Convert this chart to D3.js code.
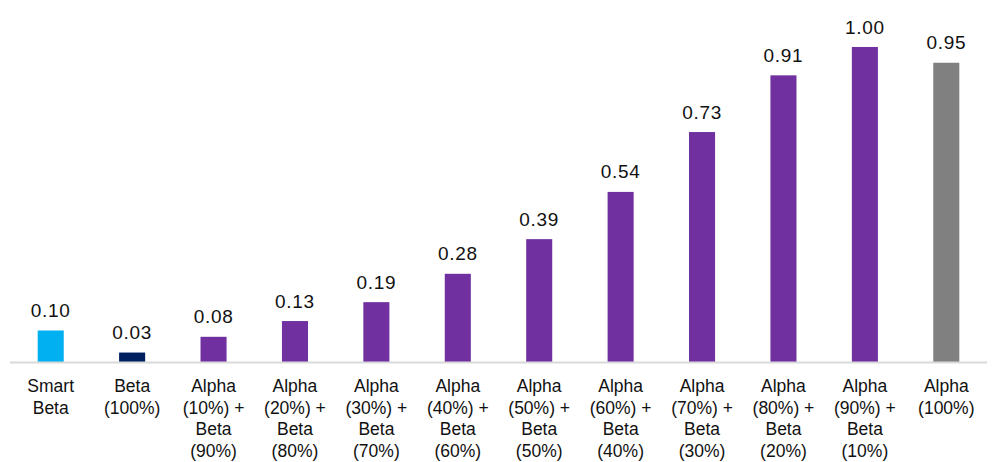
<!DOCTYPE html>
<html>
<head>
<meta charset="utf-8">
<script src="https://cdn.jsdelivr.net/npm/d3@7"></script>
<style>
  body { margin: 0; background: #fff; }
  text { font-family: "Liberation Sans", Arial, sans-serif; fill: #111; }
</style>
</head>
<body>
<div id="chart"></div>
<script>
// categories (each entry split into label lines)
const categories = [
  ["Smart", "Beta"],
  ["Beta", "(100%)"],
  ["Alpha", "(10%) +", "Beta", "(90%)"],
  ["Alpha", "(20%) +", "Beta", "(80%)"],
  ["Alpha", "(30%) +", "Beta", "(70%)"],
  ["Alpha", "(40%) +", "Beta", "(60%)"],
  ["Alpha", "(50%) +", "Beta", "(50%)"],
  ["Alpha", "(60%) +", "Beta", "(40%)"],
  ["Alpha", "(70%) +", "Beta", "(30%)"],
  ["Alpha", "(80%) +", "Beta", "(20%)"],
  ["Alpha", "(90%) +", "Beta", "(10%)"],
  ["Alpha", "(100%)"]
];
const values = [0.10, 0.03, 0.08, 0.13, 0.19, 0.28, 0.39, 0.54, 0.73, 0.91, 1.00, 0.95];
const colors = ["#00b0f0", "#002060", "#7030a0", "#7030a0", "#7030a0", "#7030a0",
                "#7030a0", "#7030a0", "#7030a0", "#7030a0", "#7030a0", "#808080"];

const width = 1000;
const height = 462;
const baseY = 362;

const svg = d3.select("#chart")
    .append("svg")
    .attr("width", width)
    .attr("height", height);

const x = d3.scaleBand()
    .domain(d3.range(categories.length))
    .range([10, 987])
    .paddingInner(0.68)
    .paddingOuter(0.34);

const y = d3.scaleLinear()
    .domain([0, 1])
    .range([baseY, 47]);

// bars
svg.selectAll("rect.bar")
    .data(values)
    .enter()
    .append("rect")
    .attr("class", "bar")
    .attr("x", (d, i) => x(i))
    .attr("y", d => y(d))
    .attr("width", x.bandwidth())
    .attr("height", d => baseY - y(d))
    .attr("fill", (d, i) => colors[i]);

// axis line
svg.append("line")
    .attr("x1", 10)
    .attr("x2", 987)
    .attr("y1", baseY + 0.5)
    .attr("y2", baseY + 0.5)
    .attr("stroke", "#d9d9d9")
    .attr("stroke-width", 2);

// value labels
svg.selectAll("text.val")
    .data(values)
    .enter()
    .append("text")
    .attr("class", "val")
    .attr("x", (d, i) => x(i) + x.bandwidth() / 2)
    .attr("y", d => y(d) - 13.5)
    .attr("text-anchor", "middle")
    .style("font-size", "19px")
    .style("letter-spacing", "0.7px")
    .text(d => d.toFixed(2));

// category labels
const cat = svg.selectAll("text.cat")
    .data(categories)
    .enter()
    .append("text")
    .attr("class", "cat")
    .attr("x", (d, i) => x(i) + x.bandwidth() / 2)
    .attr("y", 392)
    .attr("text-anchor", "middle")
    .style("font-size", "17.5px");

cat.selectAll("tspan")
    .data(d => d)
    .enter()
    .append("tspan")
    .attr("x", function() { return d3.select(this.parentNode).attr("x"); })
    .attr("dy", (d, i) => i === 0 ? 0 : 21.5)
    .text(d => d);
</script>
</body>
</html>
